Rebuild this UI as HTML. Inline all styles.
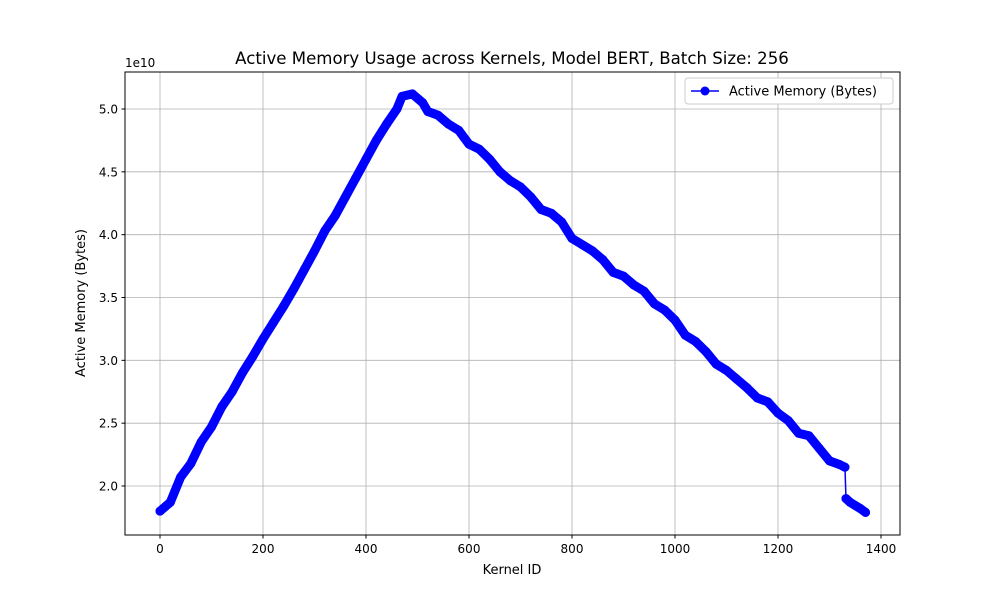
<!DOCTYPE html>
<html><head><meta charset="utf-8"><style>
body{margin:0;background:#fff;font-family:"Liberation Sans","DejaVu Sans",sans-serif}
svg text{font-family:"DejaVu Sans","Liberation Sans",sans-serif}
</style></head><body>
<svg id="chart" width="1000" height="600" viewBox="0 0 1000 600">
<rect width="1000" height="600" fill="#fff"/>
<g id="grid"></g>
<g id="series"></g>
<rect x="125" y="72" width="775" height="463" fill="none" stroke="#000" stroke-width="1"/>
<g id="xticks"></g>
<g id="yticks"></g>
<text x="125" y="67" font-size="12">1e10</text>
<text x="512" y="64" font-size="16.6" text-anchor="middle">Active Memory Usage across Kernels, Model BERT, Batch Size: 256</text>
<text x="512" y="574" font-size="13" text-anchor="middle">Kernel ID</text>
<text transform="translate(85,303) rotate(-90)" font-size="13" text-anchor="middle">Active Memory (Bytes)</text>
<g>
<rect x="685" y="78" width="208" height="26" rx="3" fill="#fff" stroke="#ccc"/>
<line x1="691" y1="91" x2="719" y2="91" stroke="#0000ff" stroke-width="1.5"/>
<circle cx="705" cy="91" r="4.5" fill="#0000ff"/>
<text x="729" y="95.5" font-size="13">Active Memory (Bytes)</text>
</g>
</svg>
<script>
const kernelIds=[0,20,40,60,80,100,120,140,160,180,200,220,240,260,280,300,320,340,360,380,400,420,440,460,470,490,510,520,540,560,580,600,620,640,660,680,700,720,740,760,780,800,820,840,860,880,900,920,940,960,980,1000,1020,1040,1060,1080,1100,1120,1140,1160,1180,1200,1220,1240,1260,1280,1300,1320,1330,1332,1340,1360,1370];
const memoryValues=[1.80,1.87,2.07,2.18,2.35,2.47,2.63,2.75,2.90,3.03,3.17,3.30,3.43,3.57,3.72,3.87,4.03,4.15,4.30,4.45,4.60,4.75,4.88,5.00,5.10,5.12,5.05,4.98,4.95,4.88,4.83,4.72,4.68,4.60,4.50,4.43,4.38,4.30,4.20,4.17,4.10,3.97,3.92,3.87,3.80,3.70,3.67,3.60,3.55,3.45,3.40,3.32,3.20,3.15,3.07,2.97,2.92,2.85,2.78,2.70,2.67,2.58,2.52,2.42,2.40,2.30,2.20,2.17,2.15,1.90,1.87,1.82,1.79];
const xTickValues=[0,200,400,600,800,1000,1200,1400];
const yTickValues=[2.0,2.5,3.0,3.5,4.0,4.5,5.0];
const NS="http://www.w3.org/2000/svg";
function xs(v){return 160+v*(721/1400);}
function ys(v){return 486-(v-2.0)*(377/3.0);}
function mk(t,a,p){const e=document.createElementNS(NS,t);for(const k in a)e.setAttribute(k,a[k]);p.appendChild(e);return e;}
const grid=document.getElementById('grid'),xt=document.getElementById('xticks'),yt=document.getElementById('yticks'),ser=document.getElementById('series');
xTickValues.forEach(v=>{const x=xs(v);
const g=mk('line',{x1:x,x2:x,y1:72,y2:535,stroke:'#b0b0b0','stroke-width':0.8},grid);


const t=mk('line',{x1:x,x2:x,y1:535,y2:538.5,stroke:'#000'},xt);


const l=mk('text',{x:x,y:553,'font-size':12,'text-anchor':'middle'},xt);l.textContent=v;

});
yTickValues.forEach(v=>{const y=ys(v);
const g=mk('line',{x1:125,x2:900,y1:y,y2:y,stroke:'#b0b0b0','stroke-width':0.8},grid);


const t=mk('line',{x1:121.5,x2:125,y1:y,y2:y,stroke:'#000'},yt);


const l=mk('text',{x:118,y:y+4.5,'font-size':12,'text-anchor':'end'},yt);l.textContent=v.toFixed(1);

});
// split into segments only at steep drops (kernel gap small, value jump large)
const segs=[[]];
kernelIds.forEach((k,i)=>{
  if(i>0){const dk=k-kernelIds[i-1],dv=Math.abs(memoryValues[i]-memoryValues[i-1]);
    if(dv/Math.max(dk,1)>0.05) segs.push([]);}
  segs[segs.length-1].push(xs(k)+','+ys(memoryValues[i]));
});
segs.forEach(s=>{
  const band=mk('polyline',{points:s.join(' '),fill:'none',stroke:'#0000ff','stroke-width':9,'stroke-linejoin':'round','stroke-linecap':'round'},ser);
  
  
});
const pts=kernelIds.map((k,i)=>xs(k)+','+ys(memoryValues[i])).join(' ');
const line=mk('polyline',{points:pts,fill:'none',stroke:'#0000ff','stroke-width':1.5},ser);


kernelIds.forEach((k,i)=>{const c=mk('circle',{cx:xs(k),cy:ys(memoryValues[i]),r:4.5,fill:'#0000ff'},ser);

});
</script>
</body></html>
